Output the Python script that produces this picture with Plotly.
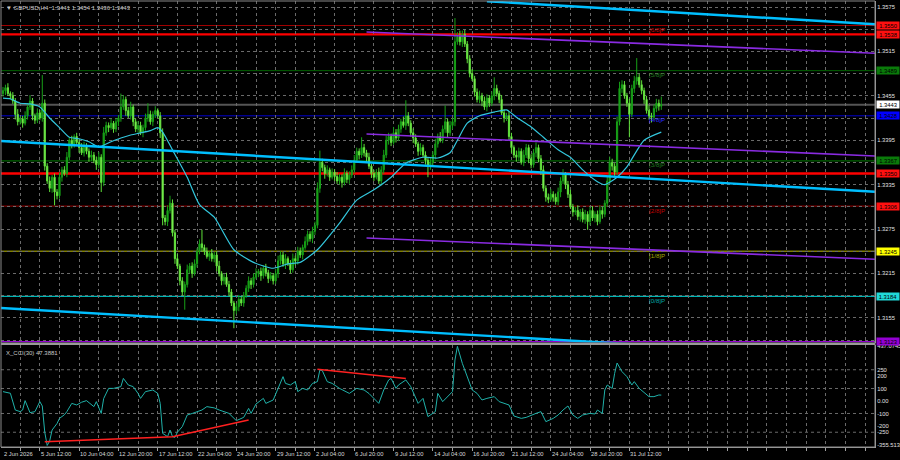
import plotly.graph_objects as go

# ---- price data (H4 bars), values in pips above 1.3000 ----
first_open = 458
closes = [
    462, 466, 458, 455, 448, 430, 420, 424, 418, 428, 440, 448, 428, 422, 432, 425, 445, 360, 340, 330,
    345, 325, 320, 345, 355, 350, 372, 395, 390, 400, 392, 385, 378, 388, 380, 372, 375, 368, 362, 372,
    338, 405, 415, 412, 418, 410, 420, 425, 440, 450, 435, 428, 440, 420, 410, 415, 405, 412, 425, 430,
    420, 430, 435, 428, 405, 290, 285, 300, 310, 270, 235, 225, 205, 190, 200, 220, 225, 215, 228, 245,
    255, 250, 245, 238, 242, 235, 240, 225, 215, 205, 210, 200, 190, 175, 165, 170, 180, 175, 185, 195,
    205, 200, 210, 215, 218, 212, 222, 216, 208, 212, 205, 215, 232, 240, 228, 235, 228, 220, 235, 232,
    245, 240, 250, 258, 268, 262, 272, 280, 330, 365, 358, 350, 355, 345, 352, 346, 340, 345, 338, 350,
    342, 348, 355, 368, 380, 375, 385, 378, 372, 360, 350, 345, 352, 340, 355, 375, 395, 400, 392, 405,
    398, 410, 420, 415, 428, 418, 405, 398, 390, 380, 385, 375, 368, 360, 365, 375, 390, 400, 395, 410,
    420, 405, 415, 420, 528, 535, 528, 538, 525, 505, 485, 478, 460, 450, 455, 448, 440, 452, 445, 455,
    465, 458, 450, 432, 425, 428, 400, 385, 375, 372, 380, 365, 375, 385, 370, 362, 378, 385, 370, 355,
    330, 318, 315, 322, 318, 312, 325, 340, 348, 335, 322, 305, 298, 300, 292, 298, 288, 295, 285, 300,
    290, 295, 285, 300, 295, 310, 340, 365, 360, 352, 420, 465, 470, 455, 445, 430, 465, 475, 480, 470,
    462, 450, 435, 428, 426, 438, 445, 441, 443,
]
up_wick = [
    5, 4, 6, 3, 5, 4, 7, 3, 4, 6, 5, 8, 4, 3, 6, 4, 38, 5, 4, 6,
    3, 5, 4, 6, 4, 5, 7, 4, 6, 3, 5, 4, 6, 5, 3, 4, 6, 4, 5, 7,
    4, 8, 5, 4, 6, 3, 5, 4, 18, 6, 4, 5, 7, 3, 4, 6, 5, 4, 6, 15,
    5, 4, 6, 3, 5, 6, 4, 7, 10, 5, 4, 6, 3, 5, 4, 7, 4, 5, 6, 4,
    6, 19, 4, 5, 3, 6, 4, 5, 7, 3, 4, 6, 5, 4, 3, 5, 6, 4, 5, 4,
    6, 4, 5, 7, 3, 5, 4, 6, 4, 5, 3, 6, 7, 5, 4, 6, 3, 5, 7, 4,
    6, 5, 4, 7, 5, 4, 6, 5, 8, 16, 5, 4, 6, 3, 5, 4, 6, 5, 4, 7,
    4, 5, 6, 7, 5, 4, 14, 5, 4, 6, 3, 5, 4, 6, 5, 7, 6, 5, 4, 8,
    5, 6, 4, 7, 21, 5, 4, 6, 5, 3, 6, 4, 5, 4, 6, 5, 7, 4, 6, 5,
    22, 4, 6, 5, 32, 6, 8, 5, 6, 4, 5, 6, 4, 5, 7, 4, 6, 5, 4, 6,
    15, 5, 4, 6, 5, 4, 6, 5, 3, 6, 5, 4, 7, 5, 4, 6, 5, 7, 4, 5,
    6, 4, 5, 7, 4, 5, 6, 5, 8, 4, 5, 6, 4, 5, 7, 4, 5, 6, 4, 5,
    6, 4, 5, 7, 5, 4, 6, 8, 5, 4, 7, 9, 6, 5, 4, 6, 5, 7, 26, 5,
    6, 4, 5, 7, 4, 5, 6, 5, 11,
]
lo_wick = [
    4, 6, 3, 5, 4, 7, 5, 4, 6, 3, 5, 4, 6, 5, 4, 3, 5, 6, 4, 5,
    6, 18, 5, 4, 6, 3, 5, 4, 6, 5, 4, 7, 3, 5, 4, 6, 5, 4, 7, 5,
    13, 5, 4, 6, 3, 5, 4, 6, 5, 4, 7, 3, 5, 6, 4, 5, 3, 6, 4, 5,
    4, 6, 5, 3, 7, 10, 5, 6, 4, 5, 7, 4, 6, 5, 24, 4, 5, 6, 3, 5,
    4, 6, 5, 3, 6, 4, 5, 7, 4, 6, 5, 3, 6, 4, 24, 5, 6, 4, 5, 3,
    5, 6, 4, 3, 5, 7, 4, 5, 6, 3, 5, 4, 6, 5, 4, 7, 3, 5, 4, 6,
    5, 4, 6, 3, 5, 4, 6, 5, 4, 6, 5, 7, 4, 5, 3, 6, 4, 5, 7, 4,
    5, 6, 4, 5, 3, 6, 4, 5, 7, 4, 6, 5, 3, 4, 6, 5, 4, 6, 5, 3,
    6, 4, 5, 3, 6, 4, 5, 7, 4, 6, 5, 3, 6, 15, 5, 4, 6, 5, 3, 4,
    5, 6, 4, 5, 6, 4, 5, 7, 4, 6, 5, 3, 6, 4, 5, 7, 4, 6, 5, 4,
    6, 4, 5, 3, 6, 4, 5, 7, 4, 6, 5, 3, 5, 4, 6, 5, 4, 6, 5, 7,
    4, 6, 5, 3, 6, 4, 5, 7, 4, 6, 5, 3, 6, 4, 5, 7, 4, 6, 11, 5,
    4, 6, 5, 3, 6, 4, 5, 4, 6, 5, 4, 5, 6, 4, 5, 31, 4, 6, 5, 4,
    5, 6, 4, 5, 7, 4, 5, 6, 5,
]

# moving average (bar index, pips)
ma_bars = [0, 3, 7, 11, 15, 19, 23, 27, 31, 35, 39, 44, 48, 52, 56, 60, 63, 65, 69, 75, 80, 86, 94,
           102, 110, 116, 121, 128, 137, 144, 151, 158, 164, 171, 177, 182, 185, 189, 194, 200, 205,
           209, 215, 220, 226, 231, 236, 242, 245, 250, 254, 261, 268]
ma_vals = [452, 451, 445, 444, 440, 425, 412, 399, 397, 393, 386, 393, 398, 402, 405, 408, 412, 406,
           382, 345, 308, 291, 247, 230, 222, 228, 230, 247, 283, 314, 328, 345, 364, 372, 371, 378,
           395, 418, 428, 433, 436, 426, 413, 399, 382, 372, 355, 339, 335, 345, 359, 395, 406]

# X_CCI(30)
cci_bars = [0, 3, 5, 7, 8, 9, 11, 13, 15, 16, 17, 18, 19, 20, 22, 23, 25, 26, 28, 30, 32, 34, 37, 38,
            40, 41, 43, 45, 48, 49, 51, 53, 55, 56, 58, 61, 63, 64, 65, 67, 68, 69, 70, 71, 73, 75,
            77, 79, 81, 83, 86, 88, 90, 92, 95, 98, 100, 101, 103, 106, 107, 110, 112, 114, 115, 117,
            119, 120, 122, 124, 126, 128, 129, 130, 132, 134, 137, 141, 144, 147, 149, 151, 153, 155,
            157, 158, 160, 161, 162, 164, 166, 169, 171, 172, 173, 176, 177, 179, 181, 183, 184, 185,
            187, 189, 191, 193, 195, 197, 200, 202, 204, 206, 208, 211, 213, 215, 217, 219, 221, 224,
            226, 228, 230, 232, 234, 236, 239, 241, 242, 244, 245, 246, 248, 249, 250, 252, 254, 256,
            257, 259, 261, 263, 265, 267, 268]
cci_vals = [75, 62, -72, -85, -72, 3, -93, -85, -5, -40, -250, -355.513, -320, -232, -180, -139, -110,
            -85, -19, -32, -10, 3, -45, -5, -99, 20, 101, 101, 115, 181, 128, 115, 60, 21, 75, 88, 61,
            -19, -259, -285, -232, -285, -291, -250, -205, -112, -100, -85, -72, -45, -55, -72, -85,
            -99, -157, -131, -59, -99, -24, 21, -19, 8, 101, 195, 141, 128, 155, 75, 101, 88, 141, 155,
            248, 243, 155, 141, 101, 61, 101, 88, 60, 21, -19, 88, 168, 181, 101, 128, 141, 168, 115,
            -19, 21, -45, -125, -85, 61, -5, 35, 75, 328, 437.0745, 301, 195, 88, 61, 8, 21, 35, -5,
            -19, -32, -120, -139, -131, -112, -99, -85, -165, -139, -112, -72, -40, -112, -139, -112,
            -99, -104, -72, -99, 88, 128, 101, 221, 304, 235, 195, 128, 155, 101, 70, 35, 35, 48, 47.3881]

# drawn objects
levels = [1.3550, 1.3538, 1.3489, 1.3443, 1.3428, 1.3367, 1.3350, 1.3306, 1.3245, 1.3184, 1.3123]
level_colors = ['#a00000', '#ff0000', '#006400', '#555555', '#0000cd', '#006400', '#ff0000',
                '#a00000', '#808000', '#00b4b4', '#9400d3']
level_widths = [1.2, 2.4, 1, 2, 1, 1.2, 2.4, 1, 1.5, 1.2, 1.2]
label_bg = ['#ff1010', '#ff1010', '#0a7a0a', '#ffffff', '#0000ff', '#0a7a0a', '#ff1010',
            '#ff1010', '#ffff00', '#20d8d8', '#9400d3']

murray_levels = [1.3550, 1.3489, 1.3428, 1.3367, 1.3306, 1.3245, 1.3184]
murray_text = ['[6/8]P', '[5/8]P', '[4/8]P', '[3/8]P', '[2/8]P', '[1/8]P', '[0/8]P']
murray_colors = ['#d00000', '#1f7a1f', '#2a2aff', '#1f7a1f', '#c00000', '#a8a800', '#00a8a8']

# trend channels: (bar0, price0, bar1, price1)
cyan_channel = [(197, 1.35827, 355, 1.35517),
                (-1, 1.33940, 355, 1.33253),
                (-1, 1.31683, 355, 1.31007)]
purple_channel = [(148, 1.35413, 355, 1.35125),
                  (148, 1.34034, 355, 1.33737),
                  (148, 1.32629, 355, 1.32341)]
cci_div = [([17, 69, 100], [-325, -285, -152]),
           ([128, 164], [254, 181])]

time_bars = [0] + [15 + 16 * k for k in range(16)]
time_labels = ['2 Jun 2026', '5 Jun 12:00', '10 Jun 04:00', '12 Jun 20:00', '17 Jun 12:00',
               '22 Jun 04:00', '24 Jun 20:00', '29 Jun 12:00', '2 Jul 04:00', '6 Jul 20:00',
               '9 Jul 12:00', '14 Jul 04:00', '16 Jul 20:00', '21 Jul 12:00', '24 Jul 04:00',
               '28 Jul 20:00', '31 Jul 12:00']

# ---- build OHLC ----
bars = list(range(len(closes)))
opens = [first_open] + closes[:-1]
highs = [max(o, c) + w for o, c, w in zip(opens, closes, up_wick)]
lows = [min(o, c) - w for o, c, w in zip(opens, closes, lo_wick)]
px = lambda p: 1.3 + p / 10000

FONT = 'Liberation Sans'
fig = go.Figure()

fig.add_trace(go.Candlestick(
    x=bars, open=[px(v) for v in opens], high=[px(v) for v in highs],
    low=[px(v) for v in lows], close=[px(v) for v in closes],
    increasing=dict(line=dict(color='#17a017', width=1), fillcolor='#17a017'),
    decreasing=dict(line=dict(color='#5fe03a', width=1), fillcolor='#a4ff78'),
    whiskerwidth=0, xaxis='x', yaxis='y', hoverinfo='skip'))

fig.add_trace(go.Scatter(x=ma_bars, y=[px(v) for v in ma_vals], mode='lines',
                         line=dict(color='#33c6dc', width=1.2, shape='spline', smoothing=0.6),
                         xaxis='x', yaxis='y', hoverinfo='skip'))

for b0, p0, b1, p1 in cyan_channel:
    fig.add_trace(go.Scatter(x=[b0, b1], y=[p0, p1], mode='lines',
                             line=dict(color='#00bfff', width=2.4), xaxis='x', yaxis='y'))
for b0, p0, b1, p1 in purple_channel:
    fig.add_trace(go.Scatter(x=[b0, b1], y=[p0, p1], mode='lines',
                             line=dict(color='#8a2be2', width=1.6), xaxis='x', yaxis='y'))

fig.add_trace(go.Scatter(x=cci_bars, y=cci_vals, mode='lines',
                         line=dict(color='#20b2aa', width=1), xaxis='x', yaxis='y2'))
for bx, vy in cci_div:
    fig.add_trace(go.Scatter(x=bx, y=vy, mode='lines',
                             line=dict(color='#ff2020', width=1.5), xaxis='x', yaxis='y2'))

shapes = []
for lvl, col, w in zip(levels, level_colors, level_widths):
    shapes.append(dict(type='line', xref='paper', x0=0, x1=1, yref='y', y0=lvl, y1=lvl,
                       line=dict(color=col, width=w), layer='between'))
for v in [250, 100, -100, -250]:
    shapes.append(dict(type='line', xref='paper', x0=0, x1=1, yref='y2', y0=v, y1=v,
                       line=dict(color='#6a6a6a', width=1, dash='3px,3px'), layer='between'))
# panel separator and frame
shapes.append(dict(type='rect', xref='paper', x0=0, x1=1, yref='paper', y0=0.2287, y1=0.2343,
                   fillcolor='#9a9a9a', line=dict(width=0)))
shapes.append(dict(type='rect', xref='paper', x0=0, x1=1, yref='paper', y0=0, y1=1,
                   line=dict(color='#8a8a8a', width=1)))

annotations = []
for lvl, bg in zip(levels, label_bg):
    annotations.append(dict(xref='paper', x=1, xanchor='left', xshift=1, yref='y', y=lvl,
                            text=f'{lvl:.4f}', showarrow=False, bgcolor=bg, borderpad=0.5,
                            width=21, font=dict(family=FONT, size=5.8, color='black')))
for lvl, t, col in zip(murray_levels, murray_text, murray_colors):
    annotations.append(dict(xref='x', x=262, xanchor='left', yref='y', y=lvl, yshift=-4,
                            text=t, showarrow=False, font=dict(family=FONT, size=6.2, color=col)))
for b, t in zip(time_bars, time_labels):
    annotations.append(dict(xref='x', x=b, xanchor='left', xshift=-1, yref='paper', y=0,
                            yanchor='top', yshift=-2, text=t, showarrow=False,
                            font=dict(family=FONT, size=5.8, color='#d8d8d8')))
annotations.append(dict(xref='paper', x=0, xanchor='left', xshift=3, yref='paper', y=1,
                        yanchor='top', yshift=-2, showarrow=False,
                        text=f'▼ GBPUSD,H4  {px(opens[-1]):.4f} {px(highs[-1]):.4f} '
                             f'{px(lows[-1]):.4f} {px(closes[-1]):.4f}',
                        font=dict(family=FONT, size=6, color='#c8c8c8')))
annotations.append(dict(xref='paper', x=0, xanchor='left', xshift=3, yref='paper', y=0.2287,
                        yanchor='top', yshift=-3, showarrow=False,
                        text=f'X_CCI(30) {cci_vals[-1]:.4f}',
                        font=dict(family=FONT, size=6, color='#c8c8c8')))

price_ticks = [round(1.3575 - 0.003 * k, 4) for k in range(16)]
price_text = [f'{v:.4f}' if k % 2 == 0 else '' for k, v in enumerate(price_ticks)]
cci_ticks = [437.0745, 250, 200, 100, 0, -100, -200, -250, -355.513]
cci_text = ['437.0745', '250', '200', '100', '0.00', '-100', '-200', '-250', '-355.513']

fig.update_layout(
    width=900, height=460,
    margin=dict(l=1, r=25, t=1, b=13),
    paper_bgcolor='black', plot_bgcolor='black',
    showlegend=False,
    shapes=shapes, annotations=annotations,
    font=dict(family=FONT, size=5.8, color='#d8d8d8'),
    xaxis=dict(domain=[0, 1], anchor='y2', range=[-0.81, 355.0], rangeslider=dict(visible=False),
               tickmode='linear', tick0=-1, dtick=8, showticklabels=False,
               ticks='outside', ticklen=3, tickcolor='#a0a0a0', automargin=False,
               showgrid=True, gridcolor='#6a6a6a', griddash='3px,3px', gridwidth=1,
               zeroline=False, showline=True, linecolor='#a0a0a0'),
    yaxis=dict(domain=[0.2343, 1], anchor='x', side='right', range=[1.31217, 1.35831],
               tickvals=price_ticks, ticktext=price_text, ticks='', showgrid=True, automargin=False,
               gridcolor='#6a6a6a', griddash='3px,3px', gridwidth=1, zeroline=False,
               showline=True, linecolor='#a0a0a0', tickfont=dict(size=5.8, color='#e0e0e0')),
    yaxis2=dict(domain=[0, 0.2287], anchor='x', side='right', range=[-368, 448],
                tickvals=cci_ticks, ticktext=cci_text, ticks='', showgrid=False, zeroline=False,
                automargin=False, showline=True, linecolor='#a0a0a0',
                tickfont=dict(size=5.8, color='#e0e0e0')),
)

fig.write_html('out.html', config={'displayModeBar': False},
               post_script="document.body.style.margin='0';document.body.style.padding='0';")
